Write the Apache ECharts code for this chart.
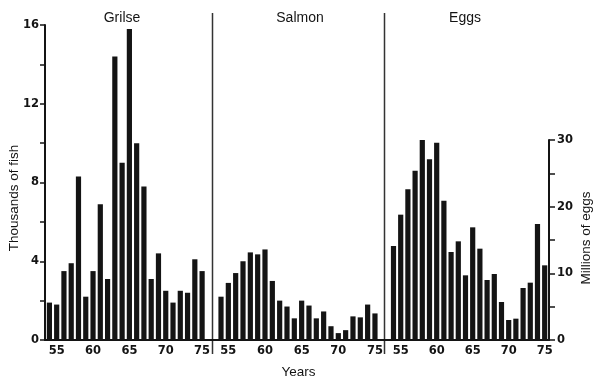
<!DOCTYPE html>
<html><head><meta charset="utf-8">
<script src="https://cdn.jsdelivr.net/npm/echarts@6/dist/echarts.min.js"></script>
<style>html,body{margin:0;padding:0;background:#fff}#c{width:600px;height:380px}</style>
</head><body><div id="c"></div>
<script>
const years = [54,55,56,57,58,59,60,61,62,63,64,65,66,67,68,69,70,71,72,73,74,75];
const grilse = [1.9,1.8,3.5,3.9,8.3,2.2,3.5,6.9,3.1,14.4,9.0,15.8,10.0,7.8,3.1,4.4,2.5,1.9,2.5,2.4,4.1,3.5];
const salmon = [2.2,2.9,3.4,4.0,4.45,4.35,4.6,3.0,2.0,1.7,1.1,2.0,1.75,1.1,1.45,0.7,0.35,0.5,1.2,1.15,1.8,1.35];
const eggs = [14.1,18.8,22.6,25.4,30.0,27.1,29.6,20.9,13.2,14.8,9.7,16.9,13.7,9.0,9.9,5.7,3.0,3.2,7.8,8.6,17.4,11.2];
const yearTicks = [55,60,65,70,75];
const panelTitles = ['Grilse','Salmon','Eggs'];
const fishAxisName = 'Thousands of fish';
const eggAxisName = 'Millions of eggs';
const xAxisName = 'Years';

const INK = '#141414';
const numFont = {fontFamily:'DejaVu Sans', fontWeight:'bold', fontSize:11.5, color:INK};
const gridBase = {outerBoundsMode:'none', containLabel:false};
const grids = [
  Object.assign({left:45, top:25, width:167.5, height:315}, gridBase),
  Object.assign({left:212.5, top:25, width:172, height:315}, gridBase),
  Object.assign({left:384.5, top:140, width:164.5, height:200}, gridBase)
];
const xRanges = [[53.395,76.43],[52.84,76.3],[52.75,75.6]];
const seriesData = [grilse, salmon, eggs];

const xAxes = xRanges.map((r,i)=>({
  type:'value', gridIndex:i, min:r[0], max:r[1],
  splitLine:{show:false},
  axisLine:{show:true, lineStyle:{color:INK, width:2}},
  axisTick:{show:false},
  axisLabel:Object.assign({customValues:yearTicks, margin:5}, numFont),
  name: i===1 ? xAxisName : '',
  nameLocation:'middle', nameGap:25,
  nameTextStyle:{fontFamily:'Liberation Sans', fontSize:13.5, color:INK}
}));

const yAxes = [
  {type:'value', gridIndex:0, min:0, max:16, interval:2,
   splitLine:{show:false},
   axisLine:{show:true, lineStyle:{color:INK, width:2}},
   axisTick:{show:true, inside:false, length:5, lineStyle:{color:INK, width:1.5}},
   axisLabel:Object.assign({margin:6, formatter:v=> v%4===0 ? String(v) : ''}, numFont)},
  {type:'value', gridIndex:1, min:0, max:16, show:false},
  {type:'value', gridIndex:2, position:'right', min:0, max:30, interval:5,
   splitLine:{show:false},
   axisLine:{show:true, lineStyle:{color:INK, width:2}},
   axisTick:{show:true, inside:false, length:6, lineStyle:{color:INK, width:1.5}},
   axisLabel:Object.assign({margin:8, formatter:v=> v%10===0 ? String(v) : ''}, numFont)}
];

const series = seriesData.map((vals,i)=>({
  type:'bar', xAxisIndex:i, yAxisIndex:i, barWidth:5.2,
  itemStyle:{color:INK},
  data: years.map((y,k)=>[y, vals[k]])
}));

const titleX = [122, 300, 465];
const graphic = [
  {type:'line', shape:{x1:212.5,y1:13,x2:212.5,y2:354}, style:{stroke:'#333', lineWidth:1.5}},
  {type:'line', shape:{x1:384.5,y1:13,x2:384.5,y2:354}, style:{stroke:'#333', lineWidth:1.5}},
  ...panelTitles.map((t,i)=>({type:'text', x:titleX[i], y:18,
    style:{text:t, textAlign:'center', textVerticalAlign:'middle', font:'14px "Liberation Sans"', fill:INK}})),
  {type:'text', x:14, y:198, rotation:Math.PI/2,
   style:{text:fishAxisName, textAlign:'center', textVerticalAlign:'middle', font:'13.5px "Liberation Sans"', fill:INK}},
  {type:'text', x:586, y:238, rotation:Math.PI/2,
   style:{text:eggAxisName, textAlign:'center', textVerticalAlign:'middle', font:'13.5px "Liberation Sans"', fill:INK}}
];

const chart = echarts.init(document.getElementById('c'), null, {renderer:'canvas'});
chart.setOption({
  animation:false,
  backgroundColor:'#fff',
  grid:grids,
  xAxis:xAxes,
  yAxis:yAxes,
  series:series,
  graphic:graphic
});
</script>
</body></html>
